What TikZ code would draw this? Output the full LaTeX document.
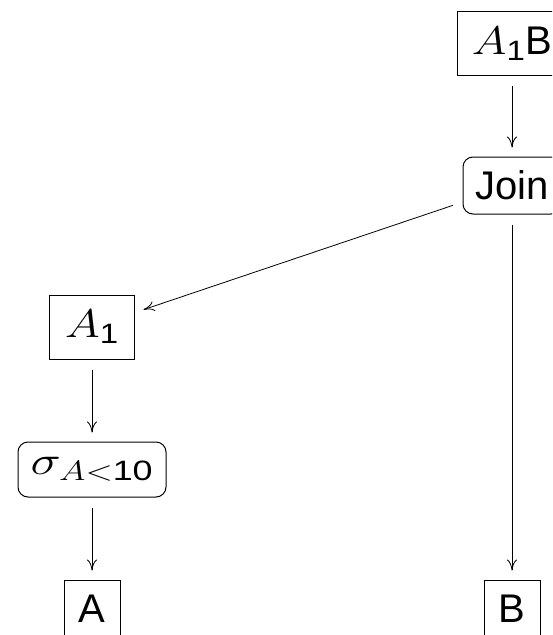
\RequirePackage{fix-cm}
\documentclass[tikz,border=0pt]{standalone}
\usepackage{amsmath}
\usepackage{graphicx}
\usepackage{fontspec}
\setmainfont{Liberation Sans}
\usetikzlibrary{arrows.meta}
% math set slightly wider than its natural shape
\newcommand\widemath[2]{\scalebox{#1}[1]{#2}}
\begin{document}
\begin{tikzpicture}[x=1pt,y=-1pt,
  label font/.style={font=\fontsize{40}{48}\selectfont},
  relbox/.style={draw, rectangle, label font, inner sep=0pt, line width=1pt},
  opbox/.style={draw, rectangle, rounded corners=10pt, label font, inner sep=0pt, line width=1pt},
  flow/.style={line width=0.8pt, -{To[length=11pt,width=10pt]}, shorten <=10pt, shorten >=9pt}]
\useasboundingbox (0,0) rectangle (552,635);
\clip (0,0) rectangle (552,635);
% query plan tree
\node[relbox, minimum width=110pt, minimum height=64pt] (a1b) at (512,43.5) {\widemath{1.18}{$A_{\text{1}}$}B};
\node[opbox, minimum width=98pt, minimum height=57pt] (join) at (512,185.5) {Join};
\node[relbox, minimum width=85pt, minimum height=64pt] (a1) at (92,327) {\widemath{1.18}{$A_{\text{1}}$}};
\node[opbox, minimum width=148pt, minimum height=55pt] (sel) at (92,469.5) {\widemath{1.28}{$\sigma_{A<\text{10}}$}};
\node[relbox, minimum width=56pt, minimum height=58pt] (ra) at (92,609) {A};
\node[relbox, minimum width=56pt, minimum height=58pt] (rb) at (512,609) {B};
% edges
\draw[flow] (a1b) -- (join);
\draw[flow] (join) -- (a1);
\draw[flow] (join) -- (rb);
\draw[flow] (a1) -- (sel);
\draw[flow] (sel) -- (ra);
\end{tikzpicture}
\end{document}
